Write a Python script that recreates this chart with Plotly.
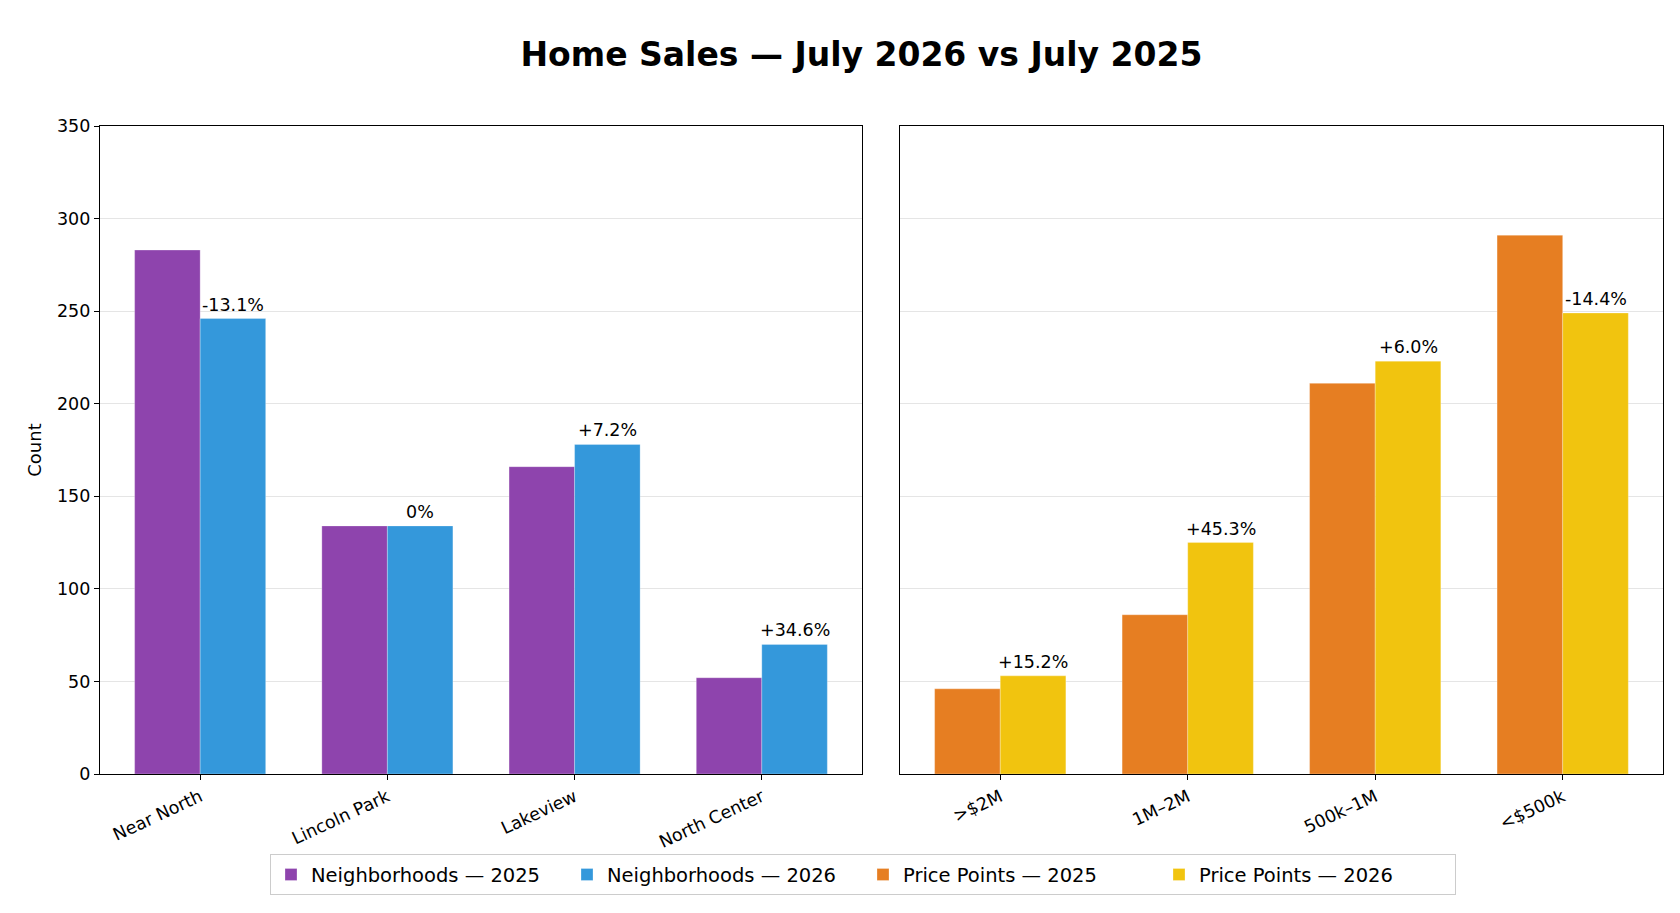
import plotly.graph_objects as go
from plotly.subplots import make_subplots

# ── Data ──────────────────────────────────────────────────────────────────────
neighborhoods = ["Near North", "Lincoln Park", "Lakeview", "North Center"]
nbhd_2025 = [283, 134, 166, 52]
nbhd_2026 = [246, 134, 178, 70]
nbhd_change = ["-13.1%", "0%", "+7.2%", "+34.6%"]

price_points = [">$2M", "1M–2M", "500k–1M", "<$500k"]
price_2025 = [46, 86, 211, 291]
price_2026 = [53, 125, 223, 249]
price_change = ["+15.2%", "+45.3%", "+6.0%", "-14.4%"]

y_ticks = [0, 50, 100, 150, 200, 250, 300, 350]

COLORS = {
    "nbhd_2025": "#8e44ad", "nbhd_2026": "#3498db",
    "price_2025": "#e67e22", "price_2026": "#f1c40f",
}
FONT = "DejaVu Sans"
BAR_W = 0.35

fig = make_subplots(rows=1, cols=2, shared_yaxes=True, horizontal_spacing=0.024)

# ── Bars ──────────────────────────────────────────────────────────────────────
panels = [
    (1, neighborhoods, nbhd_2025, nbhd_2026, nbhd_change, "Neighborhoods", "nbhd"),
    (2, price_points, price_2025, price_2026, price_change, "Price Points", "price"),
]
for col, cats, v25, v26, labels, name, key in panels:
    fig.add_trace(go.Bar(
        x=cats, y=v25, name=f"{name} — 2025",
        width=BAR_W, offset=-BAR_W,
        marker=dict(color=COLORS[f"{key}_2025"],
                    line=dict(color="rgba(255,255,255,0.35)", width=0.8)),
    ), row=1, col=col)
    fig.add_trace(go.Bar(
        x=cats, y=v26, name=f"{name} — 2026",
        width=BAR_W, offset=0,
        marker=dict(color=COLORS[f"{key}_2026"],
                    line=dict(color="rgba(255,255,255,0.35)", width=0.8)),
    ), row=1, col=col)

    # change labels above the 2026 bars
    xref = "x" if col == 1 else "x2"
    yref = "y" if col == 1 else "y2"
    for i, (val, txt) in enumerate(zip(v26, labels)):
        fig.add_annotation(
            x=i + BAR_W / 2, y=val, xref=xref, yref=yref,
            text=txt, showarrow=False, yanchor="bottom", yshift=2,
            font=dict(family=FONT, size=17.5, color="#000000"),
        )

# ── Layout ────────────────────────────────────────────────────────────────────
fig.update_layout(
    width=1680, height=913,
    margin=dict(l=92, r=25, t=118, b=147),
    paper_bgcolor="white", plot_bgcolor="white",
    font=dict(family=FONT, size=17.5, color="#000000"),
    barmode="overlay",
    title=dict(
        text="<b>Home Sales — July 2026 vs July 2025</b>",
        x=0.508, xref="container", xanchor="center",
        y=1 - 46 / 913, yref="container", yanchor="middle",
        font=dict(family=FONT, size=33, color="#000000"),
    ),
    legend=dict(
        orientation="h", x=(262 - 92) / 1563, xanchor="left", y=-0.124, yanchor="top",
        bordercolor="#cccccc", borderwidth=1, bgcolor="white",
        font=dict(family=FONT, size=19.5),
        entrywidth=251, entrywidthmode="pixels",
        traceorder="normal",
    ),
)

axis_style = dict(
    showline=True, mirror=True, linecolor="#000000", linewidth=1.3,
    ticks="outside", ticklen=5, tickwidth=1, tickcolor="#000000",
    tickfont=dict(family=FONT, size=17.5, color="#000000"),
)
fig.update_xaxes(**axis_style, tickangle=-25, range=[-0.535, 3.535], showgrid=False)
fig.update_xaxes(domain=[0, 0.4875], row=1, col=1)
fig.update_xaxes(domain=[0.5118, 1], row=1, col=2)

fig.update_yaxes(**axis_style, range=[0, 350], tickvals=y_ticks,
                 showgrid=True, gridcolor="#e5e5e5", gridwidth=1, zeroline=False)
fig.update_yaxes(title=dict(text="Count", standoff=10,
                            font=dict(family=FONT, size=18)), row=1, col=1)
fig.update_yaxes(showticklabels=False, ticks="", row=1, col=2)

fig.write_html("out.html")
